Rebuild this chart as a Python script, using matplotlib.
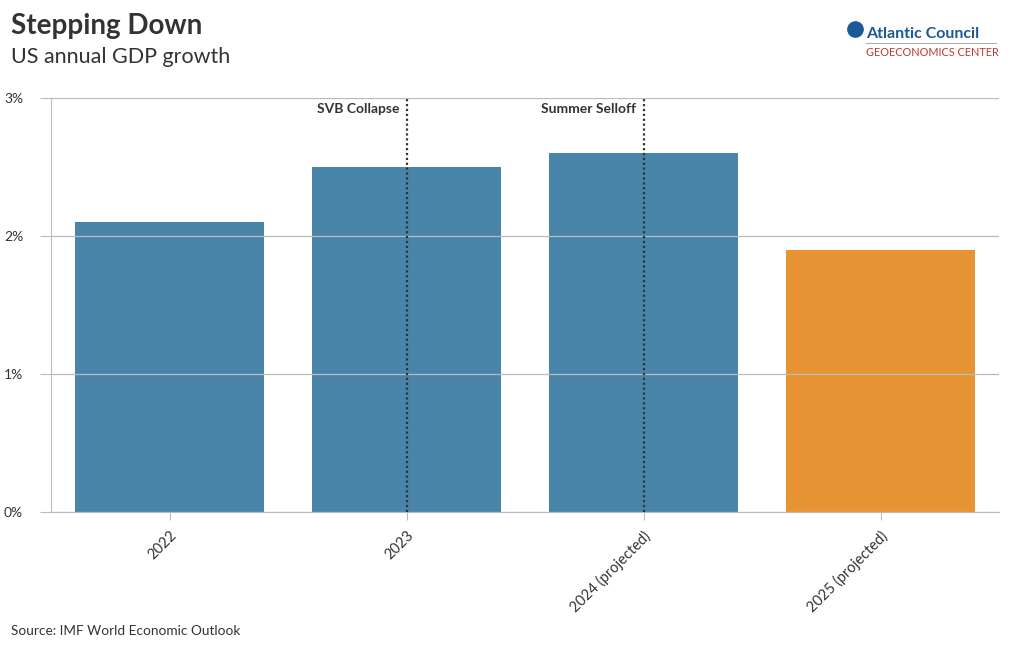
import matplotlib
matplotlib.use('Agg')
import matplotlib.pyplot as plt

years = ['2022', '2023', '2024 (projected)', '2025 (projected)']
growth = [2.1, 2.5, 2.6, 1.9]
bar_colors = ['#28709a', '#28709a', '#28709a', '#e2820f']
events = ['SVB Collapse', 'Summer Selloff']
event_pos = [1, 2]
yticks = [0, 1, 2, 3]

plt.rcParams['font.family'] = ['Lato', 'DejaVu Sans']

fig = plt.figure(figsize=(10.2, 6.5), dpi=100)
ax = fig.add_axes([51 / 1020, 1 - 512 / 650, 948 / 1020, 414 / 650])

x = range(len(years))
ax.bar(x, growth, width=0.8, color=bar_colors, alpha=0.85, zorder=2)
ax.set_xlim(-0.5, 3.5)
ax.set_ylim(0, 3)

ax.set_yticks(yticks)
ax.set_yticklabels([f'{v}%' for v in yticks], fontsize=10, color='#333333')
ax.yaxis.grid(True, color='#bbbbbb', linewidth=0.9, zorder=3)
ax.set_axisbelow(False)
ax.set_xticks(list(x))
ax.set_xticklabels(years, rotation=45, ha='right', rotation_mode='anchor',
                   fontsize=10.5, color='#333333')
ax.tick_params(axis='y', length=8, color='#bbbbbb', pad=12)
ax.tick_params(axis='x', length=6, color='#bbbbbb', pad=6)

for side in ['top', 'right']:
    ax.spines[side].set_visible(False)
ax.spines['left'].set_color('#bbbbbb')
ax.spines['bottom'].set_color('#bbbbbb')

for name, pos in zip(events, event_pos):
    ax.axvline(pos, color='#333333', linestyle=(0, (1, 1.2)), linewidth=1.6, zorder=4)
    ax.text(pos - 0.03, 2.92, name, ha='right', va='center', fontsize=10,
            fontweight='bold', color='#333333')

fig.text(11 / 1020, 1 - 26 / 650, 'Stepping Down', fontsize=20, fontweight='bold',
         color='#333333', va='center')
fig.text(11 / 1020, 1 - 57 / 650, 'US annual GDP growth', fontsize=15.5,
         color='#333333', va='center')
fig.text(11 / 1020, 1 - 631 / 650, 'Source: IMF World Economic Outlook', fontsize=9.8,
         color='#333333', va='center')

# logo
fig.add_artist(plt.Line2D([855 / 1020], [1 - 29 / 650], transform=fig.transFigure,
                          marker='o', markersize=11, color='#1a5a96', linestyle='none'))
fig.text(866 / 1020, 1 - 34 / 650, 'Atlantic Council', fontsize=11.5, fontweight='bold',
         color='#1a5a96', va='center')
fig.add_artist(plt.Line2D([866 / 1020, 996 / 1020], [1 - 43 / 650, 1 - 43 / 650],
                          transform=fig.transFigure, color='#aaaaaa', linewidth=0.7))
fig.text(866 / 1020, 1 - 53 / 650, 'GEOECONOMICS CENTER', fontsize=7.8,
         color='#c0392b', va='center')

fig.savefig('out.png', dpi=100)
